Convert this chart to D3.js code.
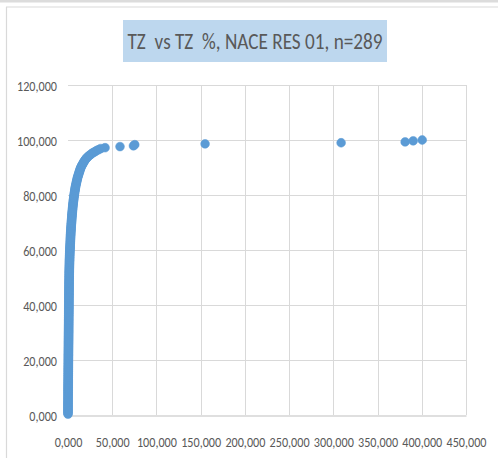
<!DOCTYPE html>
<html><head><meta charset="utf-8">
<script src="https://cdn.jsdelivr.net/npm/d3@7/dist/d3.min.js"></script>
<style>html,body{margin:0;padding:0;background:#fff;}svg{display:block;}</style>
</head><body>
<svg id="chart" width="498" height="461"></svg>
<script>
const titleText = "TZ  vs TZ  %, NACE RES 01, n=289";
const xTicks = [0,50,100,150,200,250,300,350,400,450];
const yTicks = [0,20,40,60,80,100,120];
// x values (TZ), sorted ascending
const xValues = [
0,0.001,0.003,0.006,0.009,0.012,0.016,0.020,0.025,0.030,
0.035,0.041,0.047,0.053,0.059,0.065,0.071,0.077,0.084,0.090,
0.097,0.104,0.111,0.118,0.125,0.132,0.139,0.146,0.153,0.160,
0.169,0.178,0.187,0.196,0.205,0.214,0.223,0.232,0.241,0.250,
0.259,0.268,0.277,0.286,0.295,0.304,0.313,0.322,0.331,0.340,
0.348,0.356,0.364,0.372,0.380,0.388,0.396,0.404,0.412,0.420,
0.43,0.44,0.45,0.46,0.47,0.48,0.49,0.50,0.51,0.52,
0.53,0.54,0.55,0.56,0.57,0.58,0.59,0.60,0.61,0.62,
0.63,0.64,0.65,0.66,0.67,0.68,0.69,0.70,0.71,0.72,
0.73,0.74,0.75,0.76,0.77,0.78,0.79,0.80,0.81,0.82,
0.83,0.84,0.85,0.86,0.87,0.88,0.89,0.90,0.91,0.92,
0.93,0.94,0.95,0.96,0.97,0.98,0.99,1.00,1.01,1.02,
1.03,1.04,1.05,1.06,1.07,1.08,1.09,1.10,1.11,1.12,
1.131,1.142,1.153,1.164,1.175,1.186,1.197,1.208,1.219,1.230,
1.245,1.260,1.278,1.295,1.312,1.330,1.347,1.364,1.382,1.400,
1.420,1.442,1.465,1.490,1.515,1.540,1.565,1.592,1.620,1.650,
1.680,1.710,1.745,1.780,1.815,1.850,1.885,1.920,1.960,2.000,
2.045,2.090,2.140,2.190,2.240,2.290,2.340,2.390,2.445,2.500,
2.55,2.60,2.65,2.70,2.75,2.80,2.85,2.90,2.95,3.00,
3.06,3.13,3.20,3.27,3.34,3.41,3.48,3.55,3.625,3.70,
3.78,3.86,3.94,4.02,4.10,4.18,4.26,4.34,4.42,4.50,
4.6,4.7,4.8,4.9,5.0,5.1,5.2,5.3,5.4,5.5,
5.62,5.74,5.87,6.00,6.13,6.26,6.39,6.52,6.66,6.80,
6.96,7.12,7.29,7.46,7.63,7.80,7.97,8.14,8.32,8.50,
8.73,8.96,9.20,9.44,9.68,9.92,10.17,10.42,10.70,11.00,
11.30,11.64,11.98,12.32,12.66,13.00,13.35,13.72,14.10,14.50,
15.00,15.55,16.10,16.70,17.30,17.90,18.55,19.25,20.10,21.00,
22.0,23.2,24.5,25.9,27.4,29.0,30.7,32.6,34.7,37.0,
41.9,58.8,74.0,75.5,155.0,308.8,381.2,390.3,400.5];
// y values (TZ %), cumulative share
const yValues = [
0.3,0.7,1.0,1.4,1.7,2.1,2.4,2.8,3.1,3.5,
3.8,4.2,4.5,4.8,5.2,5.5,5.9,6.2,6.6,6.9,
7.3,7.6,8.0,8.3,8.7,9.0,9.3,9.7,10.0,10.4,
10.7,11.1,11.4,11.8,12.1,12.5,12.8,13.1,13.5,13.8,
14.2,14.5,14.9,15.2,15.6,15.9,16.3,16.6,17.0,17.3,
17.6,18.0,18.3,18.7,19.0,19.4,19.7,20.1,20.4,20.8,
21.1,21.5,21.8,22.1,22.5,22.8,23.2,23.5,23.9,24.2,
24.6,24.9,25.3,25.6,26.0,26.3,26.6,27.0,27.3,27.7,
28.0,28.4,28.7,29.1,29.4,29.8,30.1,30.4,30.8,31.1,
31.5,31.8,32.2,32.5,32.9,33.2,33.6,33.9,34.3,34.6,
34.9,35.3,35.6,36.0,36.3,36.7,37.0,37.4,37.7,38.1,
38.4,38.8,39.1,39.4,39.8,40.1,40.5,40.8,41.2,41.5,
41.9,42.2,42.6,42.9,43.3,43.6,43.9,44.3,44.6,45.0,
45.3,45.7,46.0,46.4,46.7,47.1,47.4,47.8,48.1,48.4,
48.8,49.1,49.5,49.8,50.2,50.5,50.9,51.2,51.6,51.9,
52.2,52.6,52.9,53.3,53.6,54.0,54.3,54.7,55.0,55.4,
55.7,56.1,56.4,56.7,57.1,57.4,57.8,58.1,58.5,58.8,
59.2,59.5,59.9,60.2,60.6,60.9,61.2,61.6,61.9,62.3,
62.6,63.0,63.3,63.7,64.0,64.4,64.7,65.1,65.4,65.7,
66.1,66.4,66.8,67.1,67.5,67.8,68.2,68.5,68.9,69.2,
69.6,69.9,70.2,70.6,70.9,71.3,71.6,72.0,72.3,72.7,
73.0,73.4,73.7,74.0,74.4,74.7,75.1,75.4,75.8,76.1,
76.5,76.8,77.2,77.5,77.9,78.2,78.5,78.9,79.2,79.6,
79.9,80.3,80.6,81.0,81.3,81.7,82.0,82.4,82.7,83.0,
83.4,83.7,84.1,84.4,84.8,85.1,85.5,85.8,86.2,86.5,
86.9,87.2,87.5,87.9,88.2,88.6,88.9,89.3,89.6,90.0,
90.3,90.7,91.0,91.3,91.7,92.0,92.4,92.7,93.1,93.4,
93.8,94.1,94.5,94.8,95.2,95.5,95.8,96.2,96.5,96.9,
97.2,97.6,97.9,98.3,98.6,99.0,99.3,99.7,100.0];

const svg = d3.select("#chart");
const W = 498, H = 461;
const plot = {left: 68, right: 466, top: 85, bottom: 415};
const font = "'Liberation Sans Narrow', 'Carlito', 'Roboto Condensed', 'Liberation Sans', sans-serif";
const textColor = "#595959";
const grid = "#d9d9d9";
const tickFontSize = 14;

// condense tick labels so "120,000" is about 40px wide, as in the reference
const probe = svg.append("text").style("font-family", font).style("font-size", tickFontSize + "px").text("120,000");
const squeeze = Math.min(1, 40 / probe.node().getComputedTextLength());
probe.remove();
function condense(sel) {
  sel.each(function() {
    const w = this.getComputedTextLength();
    d3.select(this).attr("textLength", w * squeeze).attr("lengthAdjust", "spacingAndGlyphs");
  });
}

// frame
svg.append("rect").attr("x",0).attr("y",0).attr("width",W).attr("height",2.5).attr("fill","#dcdcdc");
svg.append("line").attr("x1",6).attr("x2",W).attr("y1",7).attr("y2",7).attr("stroke",grid).attr("stroke-width",1.2);
svg.append("line").attr("x1",6.5).attr("x2",6.5).attr("y1",7).attr("y2",458).attr("stroke",grid).attr("stroke-width",1.2);

const x = d3.scaleLinear().domain([0,450]).range([plot.left, plot.right]);
const y = d3.scaleLinear().domain([0,120]).range([plot.bottom, plot.top]);
const loc = d3.formatLocale({decimal: ",", thousands: " ", grouping: [3], currency: ["", ""]});
const fmt = loc.format(".3f");

// gridlines
svg.append("g").selectAll("line.h").data(yTicks.filter(d => d > 0)).join("line")
  .attr("x1", plot.left).attr("x2", plot.right)
  .attr("y1", d => Math.round(y(d)) + 0.5).attr("y2", d => Math.round(y(d)) + 0.5)
  .attr("stroke", grid).attr("stroke-width", 1);
svg.append("g").selectAll("line.v").data(xTicks.filter(d => d > 0)).join("line")
  .attr("x1", d => Math.round(x(d)) + 0.5).attr("x2", d => Math.round(x(d)) + 0.5)
  .attr("y1", plot.top).attr("y2", plot.bottom)
  .attr("stroke", grid).attr("stroke-width", 1);

// x axis
const xAxis = d3.axisBottom(x).tickValues(xTicks).tickFormat(fmt).tickSize(0).tickPadding(0);
const gx = svg.append("g").attr("transform", `translate(0,${plot.bottom + 0.5})`).call(xAxis);
gx.select(".domain").attr("stroke", "#bfbfbf").attr("stroke-width", 1);
gx.selectAll("text").attr("y", 0).attr("dy", "31.5px").attr("fill", textColor)
  .style("font-family", font).style("font-size", tickFontSize + "px").call(condense);

// y axis
const yAxis = d3.axisLeft(y).tickValues(yTicks).tickFormat(fmt).tickSize(0).tickPadding(11);
const gy = svg.append("g").attr("transform", `translate(${plot.left},0)`).call(yAxis);
gy.select(".domain").remove();
gy.selectAll("text").attr("fill", textColor).attr("dy", "0.36em")
  .style("font-family", font).style("font-size", tickFontSize + "px").call(condense);

// points
const pts = xValues.map((v, i) => ({x: v, y: yValues[i]}));
svg.append("g").selectAll("circle").data(pts).join("circle")
  .attr("cx", d => x(d.x)).attr("cy", d => y(d.y)).attr("r", 4.4)
  .attr("fill", "#5b9bd5").attr("stroke", "#5b9bd5").attr("stroke-width", 0.5);

// title
svg.append("rect").attr("x", 123).attr("y", 20).attr("width", 264).attr("height", 42).attr("fill", "#bdd7ee");
svg.append("text").attr("x", 255).attr("y", 49).attr("text-anchor", "middle")
  .attr("fill", textColor).style("font-family", font).style("font-size", "23px")
  .attr("textLength", 255).attr("lengthAdjust", "spacingAndGlyphs")
  .style("white-space", "pre").attr("xml:space", "preserve")
  .text(titleText);
</script>
</body></html>
